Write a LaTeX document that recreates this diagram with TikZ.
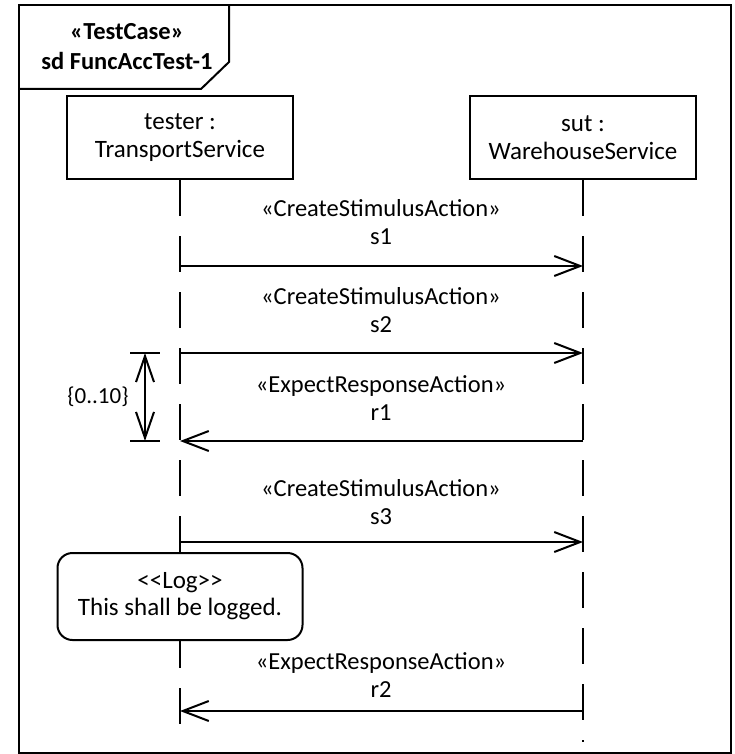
\documentclass[tikz,border=0pt]{standalone}
\usepackage{fontspec}
\setmainfont{Carlito}
\usetikzlibrary{shapes.geometric, arrows.meta, positioning}

\tikzstyle{lifehead} = [
    rectangle,
    minimum width=226pt,
    minimum height=83pt,
    draw=black,
    line width=2pt,
    align=center,
    inner sep=0pt,
    font=\fontsize{25}{28}\selectfont
]
\tikzstyle{lifeline} = [line width=2pt, dash pattern=on 36pt off 20pt]
\tikzstyle{msg} = [
    line width=2pt,
    -{Straight Barb[length=26pt,width=20pt,line width=2pt]}
]
\tikzstyle{msglabel} = [
    align=center,
    inner sep=0pt,
    font=\fontsize{24.5}{28}\selectfont
]
\tikzstyle{lognote} = [
    rectangle,
    rounded corners=15pt,
    minimum width=245pt,
    minimum height=87pt,
    draw=black,
    line width=2pt,
    align=center,
    inner sep=0pt,
    font=\fontsize{25}{27}\selectfont
]
\tikzstyle{span} = [
    line width=2pt,
    {Straight Barb[length=26pt,width=18pt,line width=2pt]}-{Straight Barb[length=26pt,width=18pt,line width=2pt]}
]

\begin{document}
\begin{tikzpicture}[x=1pt, y=-1pt]

\useasboundingbox (0,0) rectangle (734,754);

% frame and its label
\draw [line width=2pt] (19,5) rectangle (731,753);
\draw [line width=2pt] (19,89) -- (201,89) -- (229,62) -- (229,5);
\node (frametitle) [msglabel, font=\fontsize{24.5}{30}\selectfont\bfseries] at (127,47)
{«TestCase»\\sd FuncAccTest-1};

% lifelines
\node (tester) [lifehead] at (180,137.5) {tester :\\TransportService};
\node (sut) [lifehead, right of=tester, node distance=403pt] {sut :\\WarehouseService};

\node (log) [lognote] at (180,596.5) {<\kern0pt<Log>\kern0pt>\\This shall be logged.};

\coordinate (testerEnd) at (180,742);
\coordinate (sutEnd) at (583,742);

\draw [lifeline] (tester.south) -- (log.north);
\draw [lifeline, dash phase=9pt] (log.south) -- (testerEnd);
\draw [lifeline] (sut.south) -- (sutEnd);

% message ends
\coordinate (t1) at (180,266);
\coordinate (u1) at (583,266);
\coordinate (t2) at (180,353);
\coordinate (u2) at (583,353);
\coordinate (t3) at (180,441);
\coordinate (u3) at (583,441);
\coordinate (t4) at (180,542);
\coordinate (u4) at (583,542);
\coordinate (t5) at (180,711);
\coordinate (u5) at (583,711);

% messages
\node (s1label) [msglabel] at (381,222) {«CreateStimulusAction»\\s1};
\node (s2label) [msglabel] at (381,310) {«CreateStimulusAction»\\s2};
\node (r1label) [msglabel] at (381,398) {«ExpectResponseAction»\\r1};
\node (s3label) [msglabel] at (381,502) {«CreateStimulusAction»\\s3};
\node (r2label) [msglabel] at (381,675) {«ExpectResponseAction»\\r2};

\draw [msg] (t1) -- (u1);
\draw [msg] (t2) -- (u2);
\draw [msg] (u3) -- (t3);
\draw [msg] (t4) -- (u4);
\draw [msg] (u5) -- (t5);

% duration constraint
\coordinate (dtop) at (145,353);
\coordinate (dbot) at (145,441);
\draw [line width=2pt] (130,353) -- (160,353);
\draw [line width=2pt] (130,441) -- (160,441);
\draw [span] (dtop) -- (dbot);
\node (bound) [msglabel, font=\fontsize{23}{28}\selectfont] at (98,397) {\{0..10\}};

\end{tikzpicture}
\end{document}
